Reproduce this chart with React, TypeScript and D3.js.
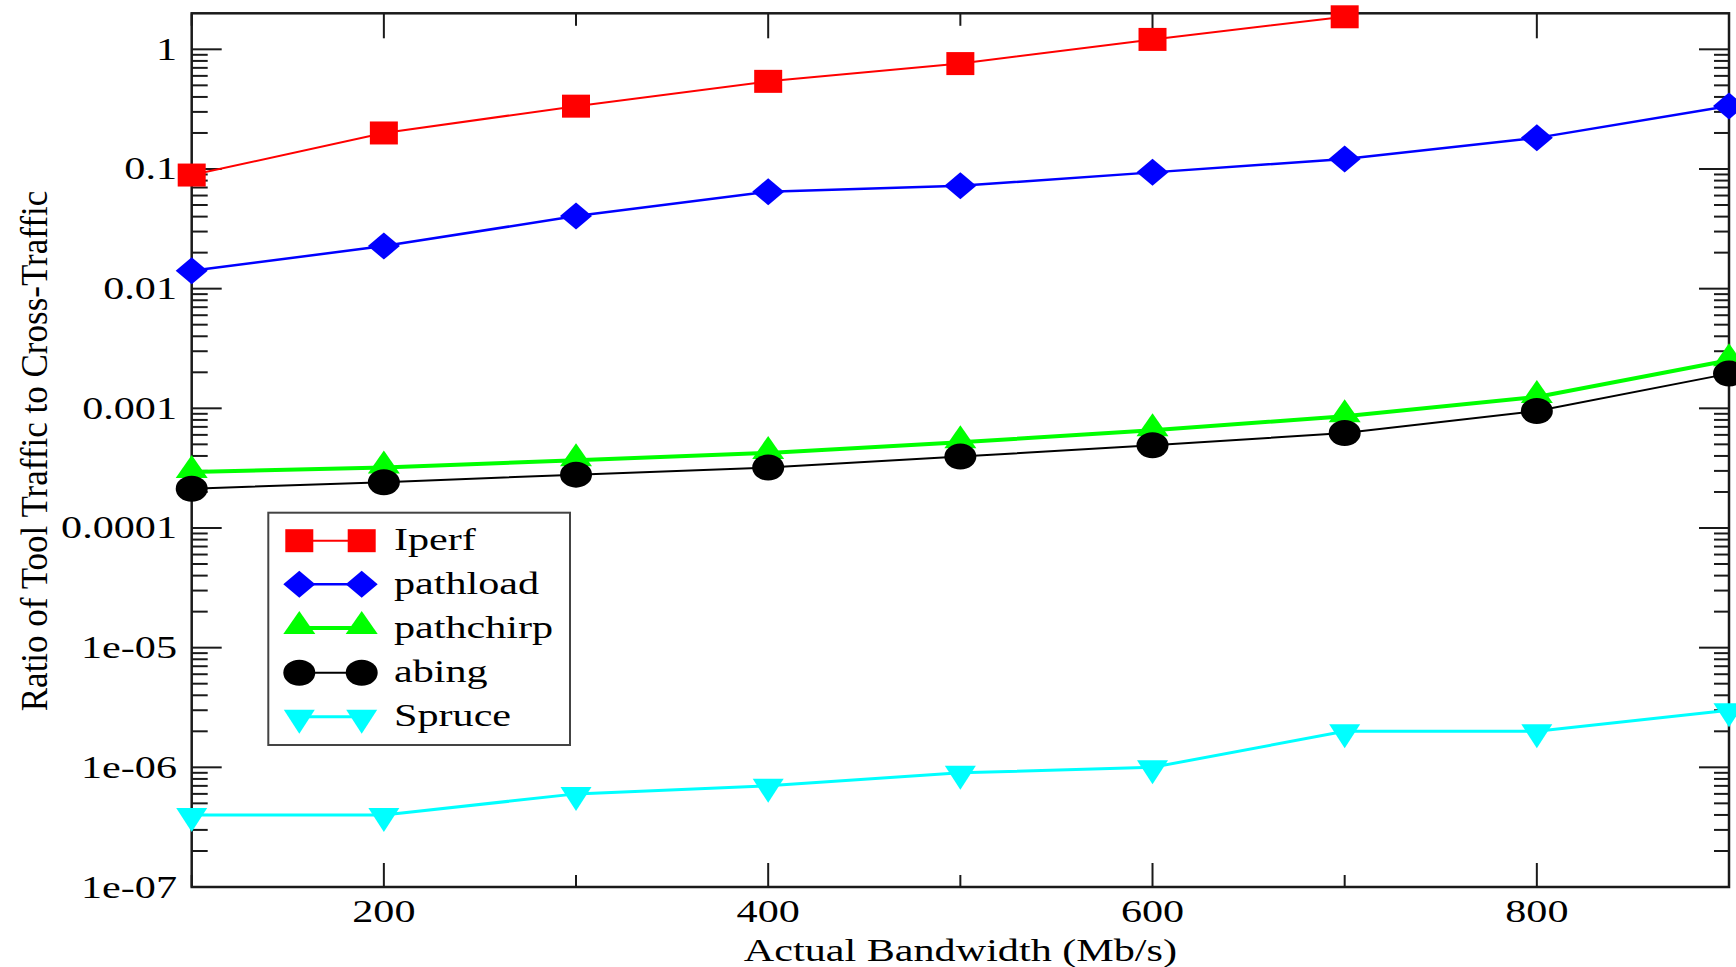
import React from "react";
import * as d3 from "d3";

const bandwidth = [100, 200, 300, 400, 500, 600, 700, 800, 900];
const iperfX = [100, 200, 300, 400, 500, 600, 700];
const iperf = [0.089, 0.2, 0.335, 0.54, 0.76, 1.21, 1.87];
const pathload = [0.0141, 0.0227, 0.0404, 0.0645, 0.0724, 0.0937, 0.121, 0.182, 0.336];
const pathchirp = [2.94e-4, 3.2e-4, 3.68e-4, 4.24e-4, 5.2e-4, 6.56e-4, 8.6e-4, 1.245e-3, 2.52e-3];
const abing = [2.13e-4, 2.41e-4, 2.79e-4, 3.2e-4, 3.95e-4, 4.91e-4, 6.22e-4, 9.5e-4, 1.95e-3];
const spruce = [4e-7, 4e-7, 6e-7, 7e-7, 9e-7, 1e-6, 2e-6, 2e-6, 3e-6];

const xMajorTicks = [200, 400, 600, 800];
const xMinorTicks = [100, 300, 500, 700, 900];
const yMajorTicks = [1e-7, 1e-6, 1e-5, 1e-4, 1e-3, 1e-2, 1e-1, 1];
const yTickLabels = ["1e-07", "1e-06", "1e-05", "0.0001", "0.001", "0.01", "0.1", "1"];

const seriesNames = ["Iperf", "pathload", "pathchirp", "abing", "Spruce"];

const L = 191.7, R = 1729, T = 13.3, B = 887;
const SX = 1.36; // horizontal text stretch
const FONT = "'Liberation Serif', 'Times New Roman', serif";

const x = d3.scaleLinear().domain([100, 900]).range([L, R]);
const y = d3.scaleLog().domain([1e-7, 2]).range([B, T]);

type Shape = "square" | "diamond" | "triUp" | "circle" | "triDown";

function markerPath(shape: Shape): string {
  switch (shape) {
    case "square":
      return "M-14,-11.5H14V11.5H-14Z";
    case "diamond":
      return "M0,-13.5L16,0L0,13.5L-16,0Z";
    case "triUp":
      return "M0,-17L16,6L-16,6Z";
    case "triDown":
      return "M0,17L15.5,-7L-15.5,-7Z";
    case "circle":
      return "M-16,0A16,13 0 1,0 16,0A16,13 0 1,0 -16,0Z";
  }
}

interface Series {
  name: string;
  xs: number[];
  ys: number[];
  color: string;
  width: number;
  shape: Shape;
}

const series: Series[] = [
  { name: seriesNames[0], xs: iperfX, ys: iperf, color: "#ff0000", width: 2, shape: "square" },
  { name: seriesNames[1], xs: bandwidth, ys: pathload, color: "#0000ff", width: 2.5, shape: "diamond" },
  { name: seriesNames[2], xs: bandwidth, ys: pathchirp, color: "#00ff00", width: 4, shape: "triUp" },
  { name: seriesNames[3], xs: bandwidth, ys: abing, color: "#000000", width: 2, shape: "circle" },
  { name: seriesNames[4], xs: bandwidth, ys: spruce, color: "#00ffff", width: 3, shape: "triDown" },
];

const line = d3
  .line<[number, number]>()
  .x((d) => x(d[0]))
  .y((d) => y(d[1]));

function yMinorTicks(): number[] {
  const out: number[] = [];
  for (let k = -7; k <= 0; k++) {
    for (let m = 2; m <= 9; m++) {
      const v = m * Math.pow(10, k);
      if (v < 2) out.push(v);
    }
  }
  return out;
}

function SText({ x0, y0, anchor, children, size = 31 }: any) {
  return (
    <g transform={`translate(${x0},${y0}) scale(${SX},1)`}>
      <text x={0} y={0} textAnchor={anchor} fontFamily={FONT} fontSize={size} fill="#000">
        {children}
      </text>
    </g>
  );
}

export default function App() {
  const axisColor = "#1a1a1a";
  const legX = 268.3, legY = 512.7, legW = 301.7, legH = 232.3;
  const legRowY = [540.7, 584.3, 628, 672.7, 716.7];
  const legM1 = 299.3, legM2 = 361.7, legText = 394;

  return (
    <svg
      width={1736}
      height={967}
      style={{ position: "absolute", left: 0, top: 0, display: "block", background: "#fff" }}
    >
      <rect x={0} y={0} width={1736} height={967} fill="#fff" />

      {/* ticks */}
      <g stroke={axisColor} strokeWidth={2}>
        {xMajorTicks.map((t) => (
          <g key={"xM" + t}>
            <line x1={x(t)} x2={x(t)} y1={B} y2={B - 24} />
            <line x1={x(t)} x2={x(t)} y1={T} y2={T + 25} />
          </g>
        ))}
        {xMinorTicks.map((t) => (
          <g key={"xm" + t}>
            <line x1={x(t)} x2={x(t)} y1={B} y2={B - 12} />
            <line x1={x(t)} x2={x(t)} y1={T} y2={T + 12.5} />
          </g>
        ))}
        {yMajorTicks.map((t) => (
          <g key={"yM" + t}>
            <line x1={L} x2={L + 30} y1={y(t)} y2={y(t)} />
            <line x1={R} x2={R - 30} y1={y(t)} y2={y(t)} />
          </g>
        ))}
        {yMinorTicks().map((t) => (
          <g key={"ym" + t}>
            <line x1={L} x2={L + 16} y1={y(t)} y2={y(t)} />
            <line x1={R} x2={R - 15} y1={y(t)} y2={y(t)} />
          </g>
        ))}
      </g>

      {/* frame */}
      <rect x={L} y={T} width={R - L} height={B - T} fill="none" stroke={axisColor} strokeWidth={2.5} />

      {/* tick labels */}
      {yMajorTicks.map((t, i) => (
        <SText key={"yl" + t} x0={177} y0={y(t) + 10.5} anchor="end">
          {yTickLabels[i]}
        </SText>
      ))}
      {xMajorTicks.map((t) => (
        <SText key={"xl" + t} x0={x(t)} y0={922} anchor="middle">
          {String(t)}
        </SText>
      ))}

      {/* axis titles */}
      <SText x0={960.4} y0={961} anchor="middle">
        Actual Bandwidth (Mb/s)
      </SText>
      <g transform={`translate(46.5,451) scale(1.22,1.13) rotate(-90)`}>
        <text x={0} y={0} textAnchor="middle" fontFamily={FONT} fontSize={31} fill="#000">
          Ratio of Tool Traffic to Cross-Traffic
        </text>
      </g>

      {/* series */}
      {series.map((s) => {
        const pts: [number, number][] = s.xs.map((xv, i) => [xv, s.ys[i]]);
        return (
          <g key={s.name}>
            <path d={line(pts) || ""} fill="none" stroke={s.color} strokeWidth={s.width} />
            {pts.map((p, i) => (
              <path
                key={i}
                d={markerPath(s.shape)}
                transform={`translate(${x(p[0])},${y(p[1])})`}
                fill={s.color}
              />
            ))}
          </g>
        );
      })}

      {/* legend */}
      <rect x={legX} y={legY} width={legW} height={legH} fill="#fff" stroke="#444" strokeWidth={2} />
      {series.map((s, i) => (
        <g key={"leg" + s.name}>
          <line x1={legM1} x2={legM2} y1={legRowY[i]} y2={legRowY[i]} stroke={s.color} strokeWidth={s.width} />
          <path d={markerPath(s.shape)} transform={`translate(${legM1},${legRowY[i]})`} fill={s.color} />
          <path d={markerPath(s.shape)} transform={`translate(${legM2},${legRowY[i]})`} fill={s.color} />
          <SText x0={legText} y0={legRowY[i] + 9.5} anchor="start">
            {s.name}
          </SText>
        </g>
      ))}
    </svg>
  );
}
